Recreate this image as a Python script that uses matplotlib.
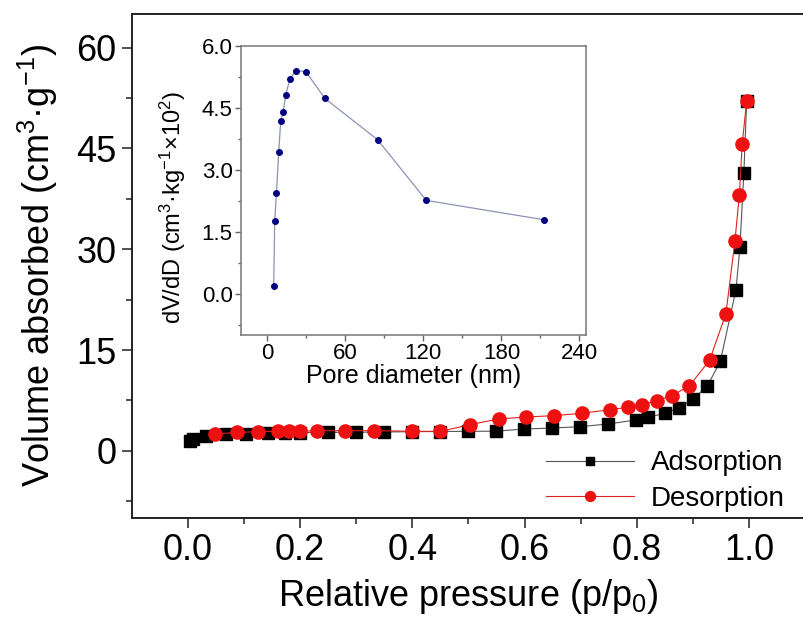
import matplotlib
matplotlib.use('Agg')
import matplotlib.pyplot as plt

plt.rcParams['font.family'] = ['Liberation Sans', 'DejaVu Sans']
plt.rcParams['mathtext.fontset'] = 'custom'
plt.rcParams['mathtext.rm'] = 'Liberation Sans'
plt.rcParams['mathtext.it'] = 'Liberation Sans'
plt.rcParams['mathtext.default'] = 'regular'

# adsorption branch (relative pressure, volume)
ads_p = [0.003, 0.008, 0.032, 0.067, 0.103, 0.142, 0.172, 0.2, 0.249, 0.299,
         0.35, 0.40, 0.45, 0.499, 0.549, 0.599, 0.649, 0.699, 0.749, 0.799,
         0.82, 0.85, 0.876, 0.90, 0.926, 0.949, 0.977, 0.984, 0.991, 0.996]
ads_v = [1.5, 1.8, 2.2, 2.45, 2.55, 2.6, 2.65, 2.7, 2.74, 2.76,
         2.8, 2.85, 2.87, 2.9, 2.92, 3.24, 3.39, 3.59, 3.99, 4.59,
         4.98, 5.58, 6.43, 7.67, 9.67, 13.3, 24.0, 30.3, 41.4, 52.1]

# desorption branch
des_p = [0.048, 0.088, 0.124, 0.161, 0.18, 0.2, 0.23, 0.28, 0.332, 0.40,
         0.45, 0.503, 0.554, 0.603, 0.652, 0.702, 0.753, 0.785, 0.81, 0.836,
         0.863, 0.894, 0.93, 0.959, 0.975, 0.983, 0.988, 0.996]
des_v = [2.5, 2.74, 2.84, 2.9, 2.9, 2.9, 3.0, 3.0, 3.0, 2.9,
         2.9, 3.89, 4.74, 5.03, 5.23, 5.58, 6.13, 6.48, 6.83, 7.48,
         8.22, 9.67, 13.5, 20.4, 31.2, 38.1, 45.6, 52.1]

# pore size distribution (inset)
pore_d = [5.1, 5.9, 7.2, 9.0, 10.5, 12.3, 14.4, 17.4, 22.1, 29.8, 44.4, 84.9, 122.3, 213]
dvdd = [0.18, 1.76, 2.44, 3.44, 4.19, 4.40, 4.81, 5.19, 5.40, 5.38, 4.73, 3.73, 2.26, 1.79]

fig = plt.figure(figsize=(8.04, 6.26), dpi=100)
ax = fig.add_axes([132/804, 108/626, 673/804, 504/626])

ax.plot(ads_p, ads_v, color='#555555', lw=0.8, marker='s', ms=8.5,
        mfc='black', mec='black', label='Adsorption')
ax.plot(des_p, des_v, color='#e02020', lw=0.8, marker='o', ms=9.5,
        mfc='#ee1111', mec='#ee1111', label='Desorption')

ax.set_xlim(-0.1, 1.1)
ax.set_ylim(-10, 65)
ax.set_xticks([0.0, 0.2, 0.4, 0.6, 0.8, 1.0])
ax.set_xticks([0.1, 0.3, 0.5, 0.7, 0.9], minor=True)
ax.set_yticks([0, 15, 30, 45, 60])
ax.set_yticks([-7.5, 7.5, 22.5, 37.5, 52.5], minor=True)
ax.tick_params(which='major', direction='out', length=7, width=1.1,
               labelsize=26, pad=4, color='#222222')
ax.tick_params(which='minor', direction='out', length=4, width=1.1, color='#222222')
ax.spines['right'].set_visible(False)
for s in ['left', 'bottom', 'top']:
    ax.spines[s].set_linewidth(1.4)
    ax.spines[s].set_color('#222222')

ax.set_xlabel('Relative pressure (p/p$_0$)', fontsize=26, labelpad=6)
ax.set_ylabel('Volume absorbed (cm$^3$·g$^{-1}$)', fontsize=26, labelpad=12)

ax.legend(loc='lower right', bbox_to_anchor=(785/804, 114/626),
          bbox_transform=fig.transFigure, frameon=False, fontsize=20,
          handlelength=3.2, handletextpad=0.6, labelspacing=0.35,
          markerscale=0.75, borderpad=0, borderaxespad=0)

# inset
ins = fig.add_axes([241/804, 291/626, 345/804, 289/626])
ins.plot(pore_d, dvdd, color='#8a94b4', lw=0.9, marker='o', ms=4,
         mfc='#000080', mec='#000080')
ins.set_xlim(-20, 245)
ins.set_ylim(-1, 6)
ins.set_xticks([0, 60, 120, 180, 240])
ins.set_xticks([30, 90, 150, 210], minor=True)
ins.set_yticks([0.0, 1.5, 3.0, 4.5, 6.0])
ins.set_yticklabels(['0.0', '1.5', '3.0', '4.5', '6.0'])
ins.set_yticks([-0.75, 0.75, 2.25, 3.75, 5.25], minor=True)
ins.tick_params(which='major', direction='out', length=4, width=1,
                labelsize=16, pad=2, color='#666666')
ins.tick_params(which='minor', direction='out', length=2.5, width=1, color='#666666')
for s in ins.spines.values():
    s.set_linewidth(1.1)
    s.set_color('#777777')
ins.set_xlabel('Pore diameter (nm)', fontsize=18, labelpad=0)
ins.set_ylabel('dV/dD (cm$^3$·kg$^{-1}$×10$^2$)', fontsize=17)
ins.yaxis.set_label_coords(-0.155, 0.44)

fig.savefig('out.png', dpi=100)
